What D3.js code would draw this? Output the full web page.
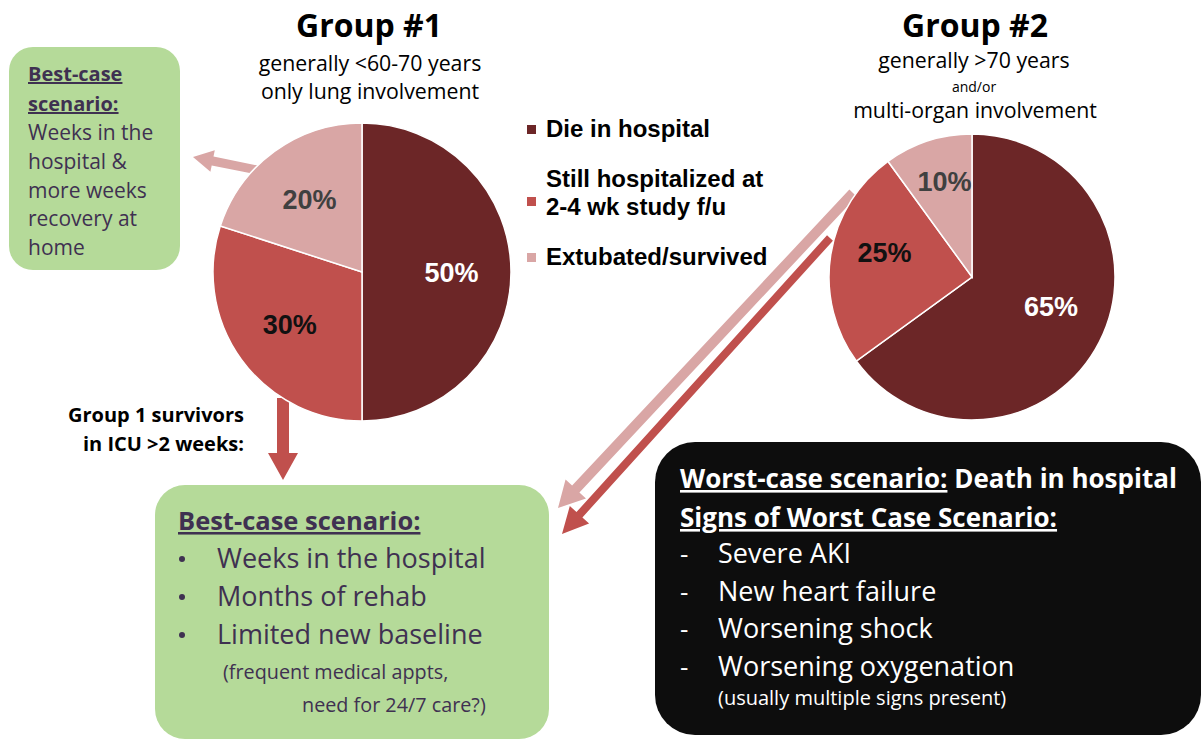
<!DOCTYPE html>
<html>
<head>
<meta charset="utf-8">
<script src="https://cdn.jsdelivr.net/npm/d3@7"></script>
<style>
  body { margin: 0; background: #fff; }
  svg { display: block; }
</style>
</head>
<body>
<svg id="chart" width="1203" height="740"></svg>
<script>
// outcome categories, shared by both pies
const outcomes = ["Die in hospital", "Still hospitalized at|2-4 wk study f/u", "Extubated/survived"];
const outcomeColors = ["#6c2627", "#c0504d", "#d9a6a5"];
const labelColors = ["#ffffff", "#111111", "#404040"];

const group1Values = [50, 30, 20];
const group2Values = [65, 25, 10];

const group1Title = ["Group #1", "generally <60-70 years", "only lung involvement"];
const group2Title = ["Group #2", "generally >70 years", "and/or", "multi-organ involvement"];

const bestCaseSmall = ["Weeks in the", "hospital &", "more weeks", "recovery at", "home"];
const survivorsNote = ["Group 1 survivors", "in ICU >2 weeks:"];
const bestCaseItems = ["Weeks in the hospital", "Months of rehab", "Limited new baseline"];
const bestCaseNote = ["(frequent medical appts,", "need for 24/7 care?)"];
const worstItems = ["Severe AKI", "New heart failure", "Worsening shock", "Worsening oxygenation"];

const svg = d3.select("#chart");
const SANS = "'Open Sans', sans-serif";
const ARIAL = "'Liberation Sans', Arial, sans-serif";
const GREEN = "#b5da99";
const PURPLE = "#3f3151";

function arrow(x1, y1, x2, y2, shaft, headW, headL, color) {
  const dx = x2 - x1, dy = y2 - y1;
  const len = Math.hypot(dx, dy);
  const ux = dx / len, uy = dy / len;
  const px = -uy, py = ux;
  const bx = x2 - ux * headL, by = y2 - uy * headL;
  const pts = [
    [x1 + px * shaft / 2, y1 + py * shaft / 2],
    [bx + px * shaft / 2, by + py * shaft / 2],
    [bx + px * headW / 2, by + py * headW / 2],
    [x2, y2],
    [bx - px * headW / 2, by - py * headW / 2],
    [bx - px * shaft / 2, by - py * shaft / 2],
    [x1 - px * shaft / 2, y1 - py * shaft / 2],
  ];
  svg.append("polygon")
    .attr("points", pts.map(p => p.join(",")).join(" "))
    .attr("fill", color);
}

function drawPie(values, cx, cy, r, labelR, labelDy) {
  const pie = d3.pie().sort(null).value(d => d);
  const arc = d3.arc().innerRadius(0).outerRadius(r);
  const labelArc = d3.arc().innerRadius(r * labelR).outerRadius(r * labelR);
  const g = svg.append("g").attr("transform", `translate(${cx},${cy})`);
  const arcs = pie(values);

  g.selectAll("path")
    .data(arcs)
    .join("path")
    .attr("d", arc)
    .attr("fill", (d, i) => outcomeColors[i])
    .attr("stroke", "#fff")
    .attr("stroke-width", 1.5);

  g.selectAll("text")
    .data(arcs)
    .join("text")
    .attr("transform", d => {
      const [x, y] = labelArc.centroid(d);
      return `translate(${x},${y + labelDy})`;
    })
    .attr("text-anchor", "middle")
    .attr("dy", "0.36em")
    .attr("font-family", ARIAL)
    .attr("font-weight", "bold")
    .attr("font-size", 27)
    .attr("fill", (d, i) => labelColors[i])
    .text(d => d.data + "%");
}

// arrows sit under the pies
arrow(262, 171, 193, 157, 9, 22, 20, "#d9a6a5");
arrow(283, 398, 283, 480, 12, 30, 27, "#c0504d");
arrow(853, 193, 558, 508, 10, 28, 26, "#d9a6a5");
arrow(830, 238, 562, 534, 8, 26, 26, "#c0504d");

drawPie(group1Values, 362, 272, 149, 0.6, 0);
drawPie(group2Values, 972, 277, 143, 0.62, -11);

// titles
svg.append("text").attr("x", 369).attr("y", 37).attr("text-anchor", "middle")
  .attr("font-family", SANS).attr("font-weight", "bold").attr("font-size", 32)
  .text(group1Title[0]);
svg.append("text").attr("x", 370).attr("y", 71).attr("text-anchor", "middle")
  .attr("font-family", SANS).attr("font-size", 21.3).text(group1Title[1]);
svg.append("text").attr("x", 370).attr("y", 99).attr("text-anchor", "middle")
  .attr("font-family", SANS).attr("font-size", 21.3).text(group1Title[2]);

svg.append("text").attr("x", 975).attr("y", 37).attr("text-anchor", "middle")
  .attr("font-family", SANS).attr("font-weight", "bold").attr("font-size", 32)
  .text(group2Title[0]);
svg.append("text").attr("x", 974).attr("y", 68).attr("text-anchor", "middle")
  .attr("font-family", SANS).attr("font-size", 21.3).text(group2Title[1]);
svg.append("text").attr("x", 974).attr("y", 92).attr("text-anchor", "middle")
  .attr("font-family", SANS).attr("font-size", 14).text(group2Title[2]);
svg.append("text").attr("x", 975).attr("y", 118).attr("text-anchor", "middle")
  .attr("font-family", SANS).attr("font-size", 21.3).text(group2Title[3]);

// legend
const legendY = [137, 187, 265];
outcomes.forEach((name, i) => {
  const lines = name.split("|");
  const sqY = lines.length > 1 ? legendY[i] + 14 : legendY[i] - 8;
  svg.append("rect").attr("x", 527).attr("y", sqY - 4).attr("width", 9).attr("height", 9)
    .attr("fill", outcomeColors[i]);
  lines.forEach((ln, j) => {
    svg.append("text").attr("x", 546).attr("y", legendY[i] + j * 28)
      .attr("font-family", ARIAL).attr("font-weight", "bold").attr("font-size", 24)
      .attr("fill", "#000").text(ln);
  });
});

// small best-case box
svg.append("rect").attr("x", 9).attr("y", 47).attr("width", 171).attr("height", 223)
  .attr("rx", 24).attr("fill", GREEN);
svg.append("text").attr("x", 28).attr("y", 81).attr("font-family", SANS)
  .attr("font-weight", "bold").attr("font-size", 20).attr("fill", PURPLE)
  .attr("text-decoration", "underline").text("Best-case");
svg.append("text").attr("x", 28).attr("y", 111).attr("font-family", SANS)
  .attr("font-weight", "bold").attr("font-size", 20).attr("fill", PURPLE)
  .attr("text-decoration", "underline").text("scenario:");
bestCaseSmall.forEach((t, i) => {
  svg.append("text").attr("x", 28).attr("y", 140 + i * 28.8).attr("font-family", SANS)
    .attr("font-size", 21).attr("fill", PURPLE).text(t);
});

// survivors note
survivorsNote.forEach((t, i) => {
  svg.append("text").attr("x", 244).attr("y", 422 + i * 29).attr("text-anchor", "end")
    .attr("font-family", SANS).attr("font-weight", "bold").attr("font-size", 20)
    .attr("fill", "#000").text(t);
});

// big best-case box
svg.append("rect").attr("x", 155).attr("y", 485).attr("width", 394).attr("height", 254)
  .attr("rx", 30).attr("fill", GREEN);
svg.append("text").attr("x", 178).attr("y", 530).attr("font-family", SANS)
  .attr("font-weight", "bold").attr("font-size", 25.5).attr("fill", PURPLE)
  .attr("text-decoration", "underline").text("Best-case scenario:");
bestCaseItems.forEach((t, i) => {
  const y = 568 + i * 38;
  svg.append("circle").attr("cx", 182).attr("cy", y - 9).attr("r", 3)
    .attr("fill", PURPLE);
  svg.append("text").attr("x", 217).attr("y", y).attr("font-family", SANS)
    .attr("font-size", 27).attr("fill", PURPLE).text(t);
});
svg.append("text").attr("x", 223).attr("y", 679).attr("font-family", SANS)
  .attr("font-size", 19.8).attr("fill", PURPLE).text(bestCaseNote[0]);
svg.append("text").attr("x", 302).attr("y", 712).attr("font-family", SANS)
  .attr("font-size", 19.8).attr("fill", PURPLE).text(bestCaseNote[1]);

// worst-case box
svg.append("rect").attr("x", 655).attr("y", 442).attr("width", 546).attr("height", 293)
  .attr("rx", 40).attr("fill", "#0d0d0d");
const w1 = svg.append("text").attr("x", 680).attr("y", 488).attr("font-family", SANS)
  .attr("font-weight", "bold").attr("font-size", 26).attr("fill", "#fff");
w1.append("tspan").attr("text-decoration", "underline").text("Worst-case scenario:");
w1.append("tspan").text(" Death in hospital");
svg.append("text").attr("x", 680).attr("y", 527).attr("font-family", SANS)
  .attr("font-weight", "bold").attr("font-size", 26).attr("fill", "#fff")
  .attr("text-decoration", "underline").text("Signs of Worst Case Scenario:");
worstItems.forEach((t, i) => {
  const y = 563 + i * 37.5;
  svg.append("text").attr("x", 680).attr("y", y).attr("font-family", SANS)
    .attr("font-size", 26).attr("fill", "#fff").text("-");
  svg.append("text").attr("x", 718).attr("y", y).attr("font-family", SANS)
    .attr("font-size", 27).attr("fill", "#fff").text(t);
});
svg.append("text").attr("x", 718).attr("y", 705).attr("font-family", SANS)
  .attr("font-size", 20).attr("fill", "#fff").text("(usually multiple signs present)");
</script>
</body>
</html>
